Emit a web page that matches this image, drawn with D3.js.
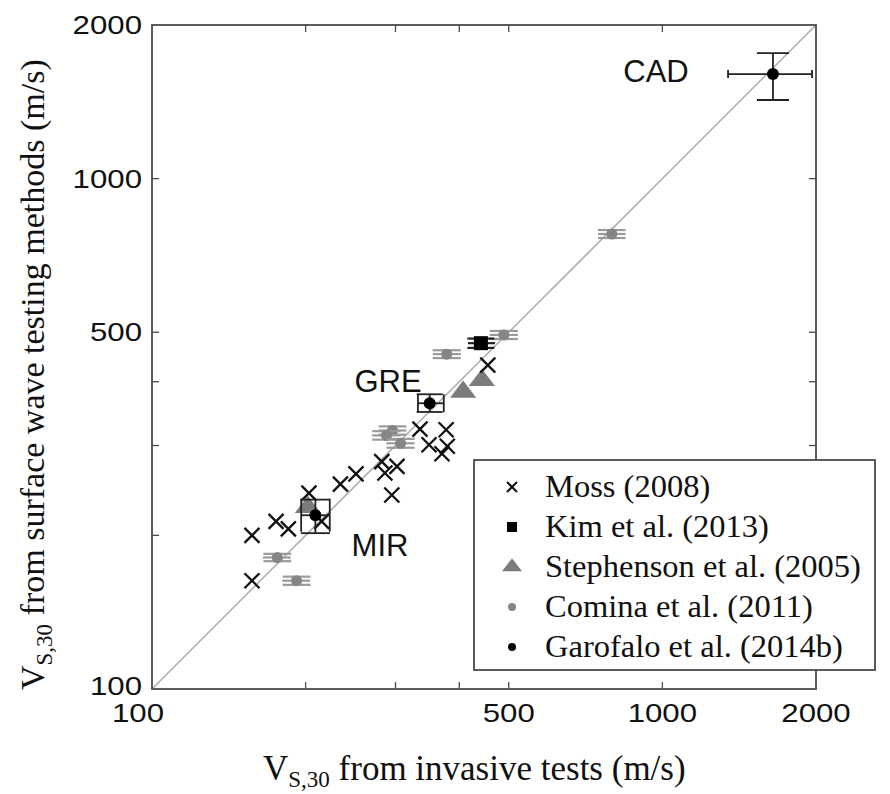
<!DOCTYPE html>
<html>
<head>
<meta charset="utf-8">
<script src="https://cdn.jsdelivr.net/npm/d3@7"></script>
<style>
  html, body { margin: 0; padding: 0; background: #fff; }
  svg { display: block; }
</style>
</head>
<body>
<svg id="chart" width="890" height="794"></svg>
<script>
// ---- data (m/s) ----
const mossX = [157, 157, 175, 185, 203, 215, 234, 251, 282, 286, 302, 295, 335, 349, 377, 379, 370, 455];
const mossY = [200, 163, 213, 206, 242, 213, 252, 264, 279, 265, 273, 240, 323, 301, 322, 299, 289, 431];

const kimX = [441], kimY = [476];
const kimXlo = [416], kimXhi = [470], kimYlo = [466], kimYhi = [486];

const stephX = [407, 443, 202];
const stephY = [380, 401, 226];

const cominaX   = [489, 378, 296, 288, 307, 176, 192, 796];
const cominaY   = [494, 453, 321, 314, 303, 181, 163, 779];
const cominaXlo = [459, 355, 278, 270, 288, 165, 180, 748];
const cominaXhi = [521, 403, 315, 307, 327, 187, 204, 847];
const cominaYlo = [485, 445, 315, 308, 297, 178, 160, 765];
const cominaYhi = [503, 461, 327, 320, 309, 184, 166, 793];

const siteNames = ["CAD", "GRE", "MIR"];
const garoX   = [1647, 350, 209];
const garoY   = [1603, 363, 219];
const garoXlo = [1345, 332, 196];
const garoXhi = [1965, 373, 223];
const garoYlo = [1426, 349, 202];
const garoYhi = [1762, 378, 235];

const tickValues = [200, 300, 400, 500, 1000];
const tickLabels = [100, 500, 1000, 2000];

const legendLabels = ["Moss (2008)", "Kim et al. (2013)", "Stephenson et al. (2005)",
                      "Comina et al. (2011)", "Garofalo et al. (2014b)"];

// ---- layout ----
const svg = d3.select("#chart");
const L = 152, R = 816, T = 25, B = 689;
const x = d3.scaleLog().domain([100, 2000]).range([L, R]);
const y = d3.scaleLog().domain([100, 2000]).range([B, T]);

const axisColor = "#4a4a4a";
const grayMark = "#858585";
const grayBar = "#9a9a9a";
const sansStretch = 1.2;

// 1:1 line
svg.append("line")
  .attr("x1", x(100)).attr("y1", y(100)).attr("x2", x(2000)).attr("y2", y(2000))
  .attr("stroke", "#a8a8a8").attr("stroke-width", 1.5);

// frame and inward ticks on all four sides
const tickLen = 7;
const frame = svg.append("g");
frame.append("rect").attr("x", L).attr("y", T).attr("width", R - L).attr("height", B - T)
  .attr("fill", "none").attr("stroke", axisColor).attr("stroke-width", 1.8);
tickValues.forEach(v => {
  frame.append("line").attr("x1", x(v)).attr("x2", x(v)).attr("y1", B).attr("y2", B - tickLen)
    .attr("stroke", axisColor).attr("stroke-width", 1.3);
  frame.append("line").attr("x1", x(v)).attr("x2", x(v)).attr("y1", T).attr("y2", T + tickLen)
    .attr("stroke", axisColor).attr("stroke-width", 1.3);
  frame.append("line").attr("y1", y(v)).attr("y2", y(v)).attr("x1", L).attr("x2", L + tickLen)
    .attr("stroke", axisColor).attr("stroke-width", 1.3);
  frame.append("line").attr("y1", y(v)).attr("y2", y(v)).attr("x1", R).attr("x2", R - tickLen)
    .attr("stroke", axisColor).attr("stroke-width", 1.3);
});

// tick labels
const sansFont = "'Liberation Sans', Arial, Helvetica, sans-serif";
tickLabels.forEach(v => {
  svg.append("text")
    .attr("transform", `translate(${x(v) - (v === 100 ? 14 : 0)},${B + 33}) scale(${sansStretch},1)`)
    .attr("text-anchor", "middle")
    .attr("font-family", sansFont).attr("font-size", 26).attr("fill", "#111")
    .text(v);
  svg.append("text")
    .attr("transform", `translate(${L - 10},${y(v) + (v === 100 ? 6 : 9)}) scale(${sansStretch},1)`)
    .attr("text-anchor", "end")
    .attr("font-family", sansFont).attr("font-size", 26).attr("fill", "#111")
    .text(v);
});

// error bar helper: horizontal bar with end caps of height capX, vertical bar with caps of width capY
function errorBars(g, cx, cy, x0, x1, y0, y1, capX, capY, color, w) {
  const px = x(cx), py = y(cy);
  const seg = (a, b, c, d) => g.append("line").attr("x1", a).attr("y1", b).attr("x2", c).attr("y2", d)
    .attr("stroke", color).attr("stroke-width", w);
  seg(x(x0), py, x(x1), py);
  if (capX > 0) {
    seg(x(x0), py - capX / 2, x(x0), py + capX / 2);
    seg(x(x1), py - capX / 2, x(x1), py + capX / 2);
  }
  seg(px, y(y0), px, y(y1));
  seg(px - capY / 2, y(y0), px + capY / 2, y(y0));
  seg(px - capY / 2, y(y1), px + capY / 2, y(y1));
}

// Comina et al. (2011)
const gComina = svg.append("g");
cominaX.forEach((v, i) => {
  const capW = x(cominaXhi[i]) - x(cominaXlo[i]);
  errorBars(gComina, v, cominaY[i], cominaXlo[i], cominaXhi[i], cominaYlo[i], cominaYhi[i], 0, capW, grayBar, 2.2);
  gComina.append("circle").attr("cx", x(v)).attr("cy", y(cominaY[i])).attr("r", 5.5).attr("fill", grayMark);
});

// Stephenson et al. (2005)
const tri = d3.symbol().type(d3.symbolTriangle).size(190);
stephX.forEach((v, i) => {
  svg.append("path").attr("d", tri)
    .attr("transform", `translate(${x(v)},${y(stephY[i]) - 1}) scale(1.25,0.95)`)
    .attr("fill", "#7b7b7b");
});

// Kim et al. (2013)
kimX.forEach((v, i) => {
  const capW = x(kimXhi[i]) - x(kimXlo[i]);
  errorBars(svg, v, kimY[i], kimXlo[i], kimXhi[i], kimYlo[i], kimYhi[i], 0, capW, "#222", 2.2);
  svg.append("rect").attr("x", x(v) - 7).attr("y", y(kimY[i]) - 7).attr("width", 14).attr("height", 14)
    .attr("fill", "#000");
});

// Moss (2008)
const cross = (g, cx, cy, s, w) => {
  g.append("path").attr("d", `M${cx - s},${cy - s}L${cx + s},${cy + s}M${cx - s},${cy + s}L${cx + s},${cy - s}`)
    .attr("stroke", "#111").attr("stroke-width", w).attr("fill", "none");
};
mossX.forEach((v, i) => cross(svg, x(v), y(mossY[i]), 7.5, 2.3));

// Garofalo et al. (2014b)
const garoCaps = [[8, 32], [18, 26], [33, 29]];
garoX.forEach((v, i) => {
  errorBars(svg, v, garoY[i], garoXlo[i], garoXhi[i], garoYlo[i], garoYhi[i],
    garoCaps[i][0], garoCaps[i][1], "#222", 1.8);
  svg.append("circle").attr("cx", x(v)).attr("cy", y(garoY[i])).attr("r", 6).attr("fill", "#000");
});

// site labels
const siteLabelPos = [[656, 82], [388, 392], [380, 556]];
siteNames.forEach((s, i) => {
  svg.append("text")
    .attr("x", siteLabelPos[i][0]).attr("y", siteLabelPos[i][1])
    .attr("text-anchor", "middle")
    .attr("font-family", sansFont).attr("font-size", 31).attr("fill", "#111")
    .text(s);
});

// legend
const serif = "'Liberation Serif', 'Times New Roman', serif";
const lg = svg.append("g");
lg.append("rect").attr("x", 474).attr("y", 460).attr("width", 401).attr("height", 210)
  .attr("fill", "#fff").attr("stroke", axisColor).attr("stroke-width", 1.8);
legendLabels.forEach((t, i) => {
  const cy = 487 + i * 40;
  const mx = 512;
  if (i === 0) cross(lg, mx, cy, 5, 2);
  if (i === 1) lg.append("rect").attr("x", mx - 5).attr("y", cy - 5).attr("width", 10).attr("height", 10).attr("fill", "#000");
  if (i === 2) lg.append("path").attr("d", d3.symbol().type(d3.symbolTriangle).size(120))
    .attr("transform", `translate(${mx},${cy}) scale(1.2,0.9)`).attr("fill", "#7b7b7b");
  if (i === 3) lg.append("circle").attr("cx", mx).attr("cy", cy).attr("r", 4).attr("fill", grayMark);
  if (i === 4) lg.append("circle").attr("cx", mx).attr("cy", cy).attr("r", 4).attr("fill", "#000");
  lg.append("text").attr("x", 545).attr("y", cy + 10)
    .attr("font-family", serif).attr("font-size", 32.5).attr("fill", "#111")
    .text(t);
});

// axis titles
const xt = svg.append("text").attr("x", 263).attr("y", 780)
  .attr("font-family", serif).attr("font-size", 35).attr("fill", "#111");
xt.append("tspan").text("V");
xt.append("tspan").attr("font-size", 23).attr("dy", 7).text("S,30");
xt.append("tspan").attr("dy", -7).text(" from invasive  tests (m/s)");

const yt = svg.append("text").attr("transform", "translate(44,690) rotate(-90)")
  .attr("font-family", serif).attr("font-size", 34).attr("fill", "#111");
yt.append("tspan").text("V");
yt.append("tspan").attr("font-size", 23).attr("dy", 8).text("S,30");
yt.append("tspan").attr("dy", -8).text(" from surface wave testing methods (m/s)");
</script>
</body>
</html>
